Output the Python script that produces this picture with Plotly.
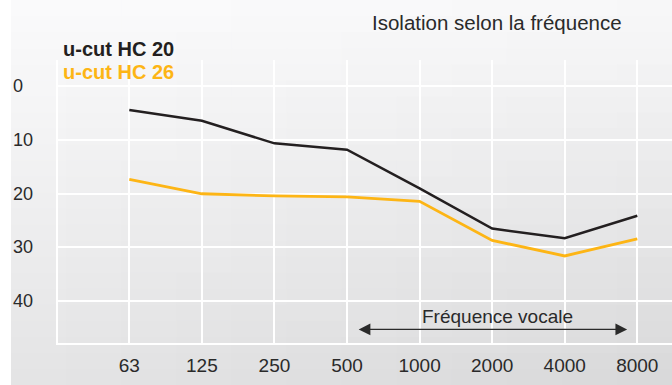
import plotly.graph_objects as go

# ---- data ----
frequencies = ["63", "125", "250", "500", "1000", "2000", "4000", "8000"]
series_names = ["u-cut HC 20", "u-cut HC 26"]
hc20_values = [4.4, 6.4, 10.6, 11.8, 19.0, 26.5, 28.3, 24.1]
hc26_values = [17.3, 20.0, 20.4, 20.6, 21.4, 28.7, 31.6, 28.4]
y_ticks = [0, 10, 20, 30, 40]
title_text = "Isolation selon la fréquence"
vocal_label = "Fréquence vocale"
vocal_range = [3.14, 6.86]   # in category-index units
vocal_level = 45.3

# ---- styles ----
BLACK = "#231f20"
YELLOW = "#fdb515"
FONT = "Liberation Sans, Arial, sans-serif"
W, H = 672, 385
L, R, T, B = 58, 0, 60, 42
pw, ph = W - L - R, H - T - B

xs = list(range(len(frequencies)))
fig = go.Figure()
fig.add_trace(go.Scatter(x=xs, y=hc20_values, mode="lines", name=series_names[0],
                         line=dict(color=BLACK, width=2.5), showlegend=False))
fig.add_trace(go.Scatter(x=xs, y=hc26_values, mode="lines", name=series_names[1],
                         line=dict(color=YELLOW, width=2.8), showlegend=False))

# gradient background (decoration) built from small rectangles
def px2paper_x(px):
    return (px - L) / pw

def px2paper_y(py):
    return (H - B - py) / ph

shapes = []
nx, ny = 12, 24
x_start = 11
c_tl, c_tr, c_bl, c_br = 251, 248, 228, 216
for i in range(nx):
    for j in range(ny):
        x0 = x_start + (W - x_start) * i / nx
        x1 = x_start + (W - x_start) * (i + 1) / nx
        y0 = H * j / ny
        y1 = H * (j + 1) / ny
        u = (i + 0.5) / nx
        v = (j + 0.5) / ny
        c = (c_tl * (1 - u) * (1 - v) + c_tr * u * (1 - v)
             + c_bl * (1 - u) * v + c_br * u * v)
        c = int(round(c))
        col = f"rgb({c},{c},{min(255, c + 1)})"
        shapes.append(dict(type="rect", xref="paper", yref="paper", layer="below",
                           x0=px2paper_x(x0), x1=px2paper_x(x1) + 0.002,
                           y0=px2paper_y(y1) - 0.002, y1=px2paper_y(y0),
                           fillcolor=col, line=dict(width=0)))

annotations = []
# title
annotations.append(dict(text=title_text, xref="paper", yref="paper",
                        x=px2paper_x(497), y=px2paper_y(23), showarrow=False,
                        xanchor="center", yanchor="middle",
                        font=dict(family=FONT, size=20.5, color="#2a2a2a")))
# legend-like labels
for name, col, py in zip(series_names, [BLACK, YELLOW], [49.5, 72]):
    annotations.append(dict(text=f"<b>{name}</b>", xref="paper", yref="paper",
                            x=px2paper_x(61), y=px2paper_y(py), showarrow=False,
                            xanchor="left", yanchor="middle",
                            font=dict(family=FONT, size=20, color=col)))
# y tick labels (left aligned)
for v in y_ticks:
    annotations.append(dict(text=str(v), xref="paper", yref="y",
                            x=px2paper_x(11), y=v, showarrow=False,
                            xanchor="left", yanchor="middle",
                            font=dict(family=FONT, size=18, color="#2a2a2a")))
# vocal frequency arrow
annotations.append(dict(text="", xref="x", yref="y", axref="x", ayref="y",
                        x=vocal_range[1], y=vocal_level,
                        ax=vocal_range[0], ay=vocal_level,
                        showarrow=True, arrowhead=2, arrowside="end+start",
                        arrowsize=1.8, arrowwidth=1.3, arrowcolor="#2a2a2a",
                        startarrowhead=2, startarrowsize=1.8))
annotations.append(dict(text=vocal_label, xref="x", yref="y",
                        x=sum(vocal_range) / 2 + 0.08, y=42.9, showarrow=False,
                        xanchor="center", yanchor="middle",
                        font=dict(family=FONT, size=19, color="#2a2a2a")))

fig.update_layout(
    width=W, height=H,
    margin=dict(l=L, r=R, t=T, b=B, pad=0, autoexpand=False),
    paper_bgcolor="white",
    plot_bgcolor="rgba(0,0,0,0)",
    shapes=shapes,
    annotations=annotations,
    showlegend=False,
    xaxis=dict(range=[-0.9825, 7.478], tickmode="array", tickvals=xs, ticktext=frequencies,
               showgrid=True, gridcolor="white", gridwidth=1.6,
               showline=True, linecolor="white", linewidth=2,
               zeroline=False, ticks="", ticklabelstandoff=4, automargin=False,
               tickfont=dict(family=FONT, size=19, color="#2a2a2a"), fixedrange=True),
    yaxis=dict(range=[47.83, -4.94], tickmode="array", tickvals=y_ticks,
               showticklabels=False, showgrid=True, gridcolor="white", gridwidth=1.6,
               showline=True, linecolor="white", linewidth=2, zeroline=False,
               automargin=False, ticks="", fixedrange=True),
)

fig.write_html("out.html", config={"displayModeBar": False},
               post_script="document.body.style.margin='0';document.body.style.padding='0';")
